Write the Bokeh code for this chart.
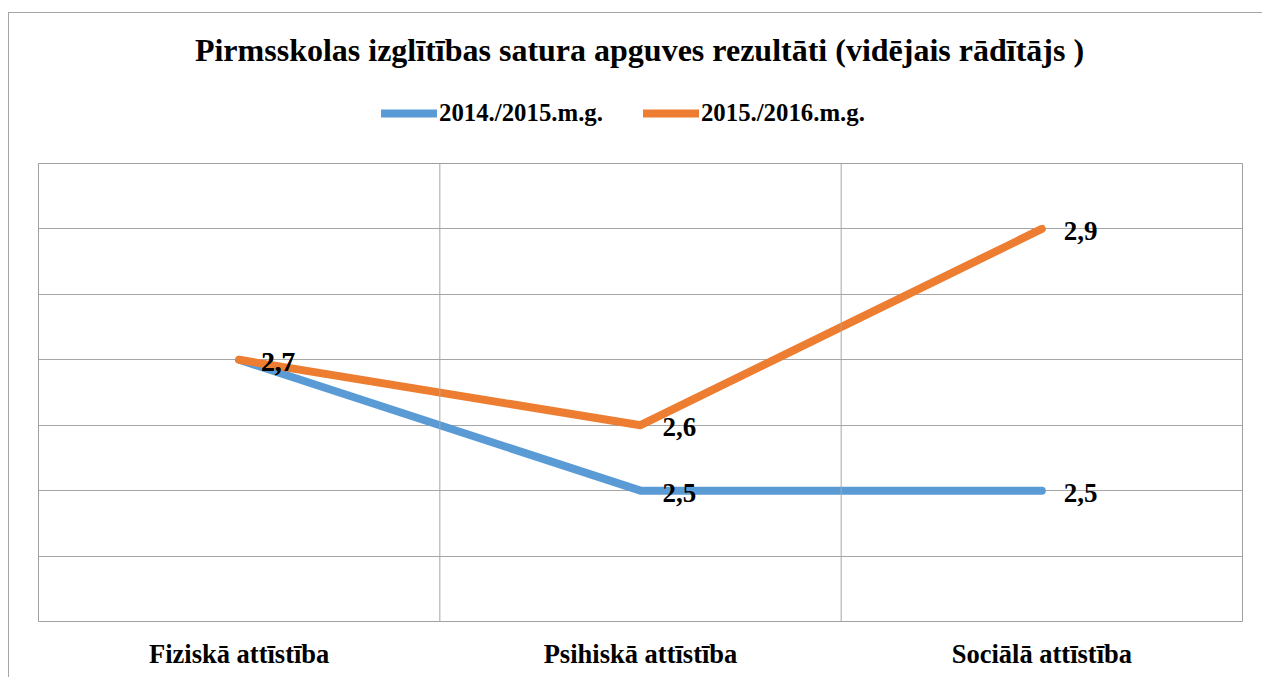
from bokeh.plotting import figure
from bokeh.layouts import column
from bokeh.models import (FactorRange, Range1d, Span, FixedTicker, Legend, LegendItem,
                          ColumnDataSource, LabelSet, Label)
from bokeh.core.properties import value
from bokeh.embed import file_html
from bokeh.resources import INLINE

categories = ["Fiziskā attīstība", "Psihiskā attīstība", "Sociālā attīstība"]
series_names = ["2014./2015.m.g.", "2015./2016.m.g."]
values_2014 = [2.7, 2.5, 2.5]
values_2015 = [2.7, 2.6, 2.9]
title_text = "Pirmsskolas izglītības satura apguves rezultāti (vidējais rādītājs )"
colors = ["#5B9BD5", "#ED7D31"]
FONT = "Liberation Serif"
W = 1253

# ---- header: title + legend (series drawn here only as legend keys, outside its view) ----
h = figure(width=W, height=149, output_backend="svg", toolbar_location=None,
           x_range=FactorRange(*categories, range_padding=0), y_range=Range1d(0, 1),
           min_border=0, x_axis_type=None, y_axis_type=None)
h.outline_line_color = None
h.xgrid.visible = False
h.ygrid.visible = False
h.add_layout(Label(x=601, y=113, x_units="screen", y_units="screen", text=title_text,
                   text_align="center", text_baseline="middle", text_font=FONT,
                   text_font_style="bold", text_font_size="32px", text_color="black"))

# ---- main chart ----
p = figure(width=W, height=515, output_backend="svg", toolbar_location=None,
           x_range=FactorRange(*categories, range_padding=0),
           y_range=Range1d(2.3, 3.0),
           min_border_left=29, min_border_right=20, min_border_bottom=56, min_border_top=1)

p.outline_line_color = "#a0a0a0"
p.outline_line_width = 1

p.yaxis.visible = False
p.ygrid.ticker = FixedTicker(ticks=[2.4, 2.5, 2.6, 2.7, 2.8, 2.9])
p.ygrid.grid_line_color = "#a6a6a6"
p.ygrid.grid_line_width = 1
p.xgrid.visible = False
for loc in [1, 2]:
    p.add_layout(Span(location=loc, dimension="height", line_color="#a6a6a6", line_width=1))

p.xaxis.axis_line_color = None
p.xaxis.major_tick_line_color = None
p.xaxis.major_label_text_font = FONT
p.xaxis.major_label_text_font_style = "bold"
p.xaxis.major_label_text_font_size = "26.5px"
p.xaxis.major_label_text_color = "black"
p.xaxis.major_label_standoff = 11

items = []
for name, vals, col in zip(series_names, [values_2014, values_2015], colors):
    src = ColumnDataSource(dict(x=categories, y=vals, lab=[f"{v:.1f}".replace(".", ",") for v in vals]))
    p.line("x", "y", source=src, line_color=col, line_width=8, line_cap="round", line_join="round")
    p.add_layout(LabelSet(x="x", y="y", text="lab", source=src, x_offset=22, y_offset=-2,
                          text_baseline="middle", text_font=value(FONT), text_font_style="bold",
                          text_font_size="27px", text_color="black"))
    key = h.line("x", "y", source=src, line_color=col, line_width=8, line_cap="round")
    items.append(LegendItem(label=name, renderers=[key]))

legend = Legend(items=items, orientation="horizontal", location=(343, 35),
                label_text_font=FONT, label_text_font_style="bold", label_text_font_size="24.8px",
                label_text_color="black", glyph_width=56, glyph_height=20, spacing=40,
                border_line_color=None, background_fill_alpha=0, label_standoff=2,
                margin=0, padding=0)
h.add_layout(legend, "center")

layout = column(h, p, spacing=0)
layout.styles = {"border-left": "1px solid #a6a6a6", "border-top": "1px solid #a6a6a6",
                 "margin-left": "8px", "margin-top": "12px"}

open("out.html", "w").write(file_html(layout, INLINE))
